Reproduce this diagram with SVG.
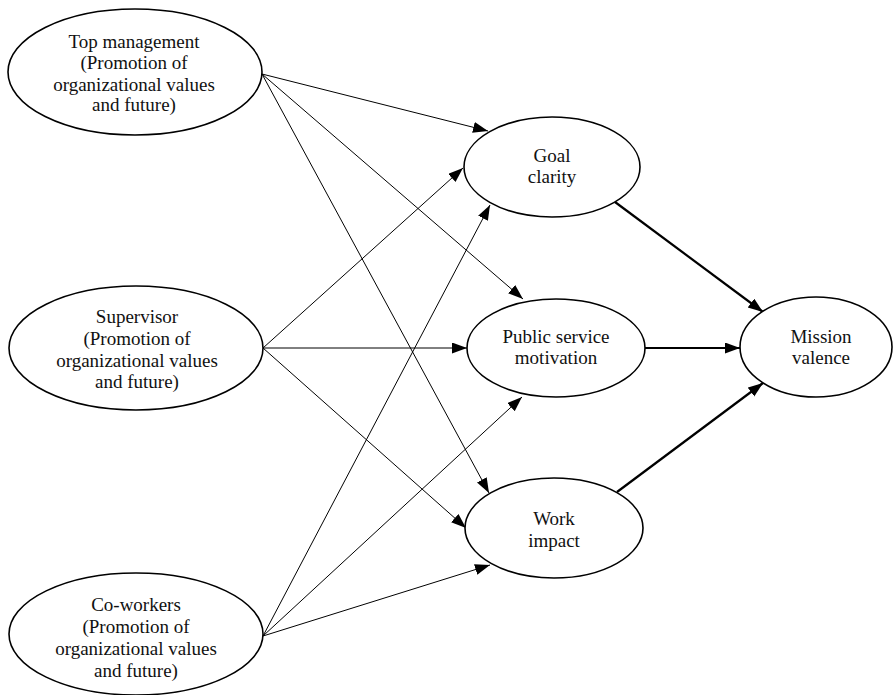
<svg xmlns="http://www.w3.org/2000/svg" width="894" height="695" viewBox="0 0 894 695">
<style>
.node ellipse{fill:#fff;stroke:#000;stroke-width:1.6}
.node text{font-family:"Liberation Serif","Times New Roman",serif;font-size:19px;fill:#111;text-anchor:middle}
.thin{stroke:#000;stroke-width:1;fill:none}
.thick{stroke:#000;stroke-width:2.2;fill:none}
</style>
<defs>
<marker id="ah" markerUnits="userSpaceOnUse" markerWidth="16" markerHeight="12" refX="15" refY="5.5" orient="auto">
<path d="M0,0 L15,5.5 L0,11 z" fill="#000"/>
</marker>
</defs>
<rect width="894" height="695" fill="#fff"/>
<g id="connectors">
<line class="thin" x1="262" y1="74" x2="488" y2="131" marker-end="url(#ah)"/>
<line class="thin" x1="262" y1="74" x2="523" y2="299" marker-end="url(#ah)"/>
<line class="thin" x1="262" y1="74" x2="489" y2="493" marker-end="url(#ah)"/>
<line class="thin" x1="263" y1="348" x2="463" y2="168" marker-end="url(#ah)"/>
<line class="thin" x1="263" y1="348" x2="467" y2="348" marker-end="url(#ah)"/>
<line class="thin" x1="263" y1="348" x2="466" y2="528" marker-end="url(#ah)"/>
<line class="thin" x1="263" y1="636" x2="490" y2="205" marker-end="url(#ah)"/>
<line class="thin" x1="263" y1="636" x2="522" y2="397" marker-end="url(#ah)"/>
<line class="thin" x1="263" y1="636" x2="490" y2="565" marker-end="url(#ah)"/>
<line class="thick" x1="615" y1="202" x2="763" y2="312" marker-end="url(#ah)"/>
<line class="thick" x1="644" y1="348" x2="740" y2="348" marker-end="url(#ah)"/>
<line class="thick" x1="617" y1="492" x2="763" y2="383" marker-end="url(#ah)"/>
</g>
<g id="top-management" class="node">
<ellipse cx="135" cy="72" rx="127" ry="63"/>
<text x="134" y="48">Top management</text>
<text x="134" y="69">(Promotion of</text>
<text x="134" y="91">organizational values</text>
<text x="134" y="111">and future)</text>
</g>
<g id="supervisor" class="node">
<ellipse cx="136" cy="348" rx="127" ry="62"/>
<text x="137" y="323">Supervisor</text>
<text x="137" y="345">(Promotion of</text>
<text x="137" y="367">organizational values</text>
<text x="137" y="388">and future)</text>
</g>
<g id="co-workers" class="node">
<ellipse cx="136" cy="634" rx="127" ry="61"/>
<text x="136" y="611">Co-workers</text>
<text x="136" y="633">(Promotion of</text>
<text x="136" y="655">organizational values</text>
<text x="136" y="677">and future)</text>
</g>
<g id="goal-clarity" class="node">
<ellipse cx="552" cy="167" rx="88" ry="50"/>
<text x="552" y="162">Goal</text>
<text x="552" y="183">clarity</text>
</g>
<g id="public-service-motivation" class="node">
<ellipse cx="556" cy="348" rx="89" ry="49"/>
<text x="556" y="343">Public service</text>
<text x="556" y="364">motivation</text>
</g>
<g id="work-impact" class="node">
<ellipse cx="554" cy="528" rx="89" ry="50"/>
<text x="554" y="525">Work</text>
<text x="554" y="547">impact</text>
</g>
<g id="mission-valence" class="node">
<ellipse cx="816" cy="347" rx="76" ry="50"/>
<text x="821" y="343">Mission</text>
<text x="821" y="364">valence</text>
</g>
</svg>
